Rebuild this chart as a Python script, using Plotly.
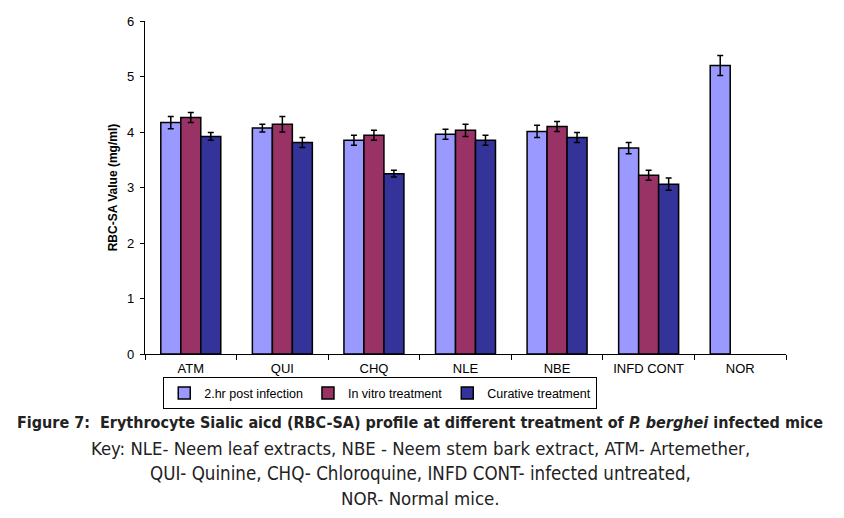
import plotly.graph_objects as go

categories = ["ATM", "QUI", "CHQ", "NLE", "NBE", "INFD CONT", "NOR"]
series_names = ["2.hr post infection", "In vitro treatment", "Curative treatment"]
post_infection = [4.17, 4.07, 3.85, 3.96, 4.01, 3.71, 5.20]
post_infection_err = [0.11, 0.07, 0.09, 0.09, 0.11, 0.10, 0.18]
in_vitro = [4.26, 4.14, 3.94, 4.03, 4.10, 3.22, None]
in_vitro_err = [0.09, 0.14, 0.09, 0.11, 0.09, 0.09, None]
curative = [3.92, 3.81, 3.25, 3.85, 3.90, 3.06, None]
curative_err = [0.07, 0.09, 0.06, 0.09, 0.09, 0.11, None]
colors = ["#9999FF", "#993366", "#333399"]

fig = go.Figure()
for name, vals, errs, col in zip(series_names,
                                 [post_infection, in_vitro, curative],
                                 [post_infection_err, in_vitro_err, curative_err],
                                 colors):
    fig.add_trace(go.Bar(
        x=categories, y=vals, name=name,
        marker=dict(color=col, line=dict(color="black", width=1.5)),
        error_y=dict(type="data", array=errs, visible=True,
                     color="black", thickness=1.5, width=3),
    ))

fig.update_layout(
    width=844, height=518,
    margin=dict(l=137, r=66, t=13, b=172),
    paper_bgcolor="white", plot_bgcolor="white",
    barmode="group", bargap=0.345, bargroupgap=0,
    font=dict(family="Liberation Sans, Arial, sans-serif", size=13, color="black"),
    showlegend=True,
    legend=dict(orientation="h", x=0.367, xanchor="center", y=-0.07, yanchor="top",
                bordercolor="black", borderwidth=1, bgcolor="white",
                font=dict(size=12.5), itemwidth=30, tracegroupgap=0),
)
fig.update_xaxes(
    type="category", tickson="boundaries", ticks="outside", ticklen=5,
    tickcolor="black", showline=True, linecolor="black", linewidth=1.2,
    showgrid=False, tickfont=dict(size=13), ticklabelstandoff=2,
    automargin=False,
)
fig.update_yaxes(
    range=[0, 6], dtick=1, ticks="outside", ticklen=4, tickcolor="black",
    showline=True, linecolor="black", linewidth=1.2, showgrid=False,
    zeroline=False, tickfont=dict(size=13), ticklabelstandoff=3,
    title=dict(text="<b>RBC-SA Value (mg/ml)</b>", font=dict(size=12), standoff=6),
    automargin=False,
)

cap_font = "Liberation Sans Narrow, DejaVu Sans Condensed, sans-serif"
captions = [
    ("<b>Figure 7:  Erythrocyte Sialic aicd (RBC-SA) profile at different treatment of <i>P. berghei</i> infected mice</b>", 422, 16),
    ("Key: NLE- Neem leaf extracts, NBE - Neem stem bark extract, ATM- Artemether,", 448, 18.4),
    ("QUI- Quinine, CHQ- Chloroquine, INFD CONT- infected untreated,", 474, 18.6),
    ("NOR- Normal mice.", 498, 18.5),
]
for text, ypx, size in captions:
    fig.add_annotation(
        text=text, xref="paper", yref="paper",
        x=(420 - 145) / 641, y=(354 - ypx) / 333,
        xanchor="center", yanchor="middle", showarrow=False,
        font=dict(family=cap_font, size=size, color="#222222"),
    )

fig.write_html("out.html")
